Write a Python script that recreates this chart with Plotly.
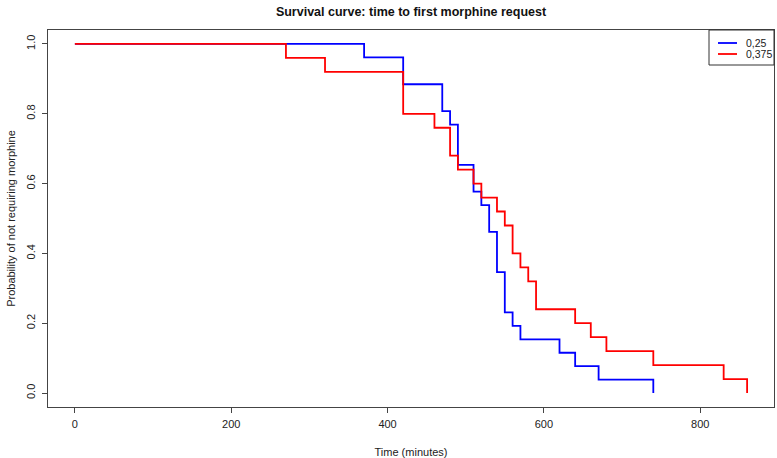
import plotly.graph_objects as go

# Kaplan-Meier step data
blue_label = "0,25"
blue_time = [0, 370, 420, 470, 480, 490, 510, 520, 530, 540, 550, 560, 570, 620, 640, 670, 740]
blue_surv = [1.0, 0.9615, 0.8846, 0.8077, 0.7692, 0.6538, 0.5769, 0.5385, 0.4615, 0.3462,
             0.2308, 0.1923, 0.1538, 0.1154, 0.0769, 0.0385, 0.0]

red_label = "0,375"
red_time = [0, 270, 320, 420, 460, 480, 490, 510, 520, 540, 550, 560, 570, 580, 590, 640,
            660, 680, 740, 830, 860]
red_surv = [1.0, 0.96, 0.92, 0.80, 0.76, 0.68, 0.64, 0.60, 0.56, 0.52, 0.48, 0.40, 0.36,
            0.32, 0.24, 0.20, 0.16, 0.12, 0.08, 0.04, 0.0]

x_ticks = [0, 200, 400, 600, 800]
y_ticks = [0.0, 0.2, 0.4, 0.6, 0.8, 1.0]
y_tick_text = ["0.0", "0.2", "0.4", "0.6", "0.8", "1.0"]

FONT = "Liberation Sans, Arial, sans-serif"
AXC = "#444444"
BLUE = "#0000FF"
RED = "#FF0000"

W, H = 777, 458
ML, MR, MT, MB = 48, 3, 30, 51
PW, PH = W - ML - MR, H - MT - MB


def px(xw):
    return (xw - ML) / PW


def py(yw):
    return 1 - (yw - MT) / PH


fig = go.Figure()
fig.add_trace(go.Scatter(x=blue_time, y=blue_surv, mode="lines", name=blue_label,
                         line=dict(color=BLUE, width=1.8, shape="hv"), showlegend=False))
fig.add_trace(go.Scatter(x=red_time, y=red_surv, mode="lines", name=red_label,
                         line=dict(color=RED, width=1.8, shape="hv"), showlegend=False))

# compact R-style legend box in the top-right corner
rows = [(blue_label, BLUE, py(43)), (red_label, RED, py(54))]
fig.add_shape(type="rect", xref="paper", yref="paper", x0=px(709), x1=1.0, y0=py(65), y1=1.0,
              line=dict(color="#333333", width=1), fillcolor="white", layer="above")
for label, color, yy in rows:
    fig.add_shape(type="line", xref="paper", yref="paper", x0=px(718), x1=px(737),
                  y0=yy, y1=yy, line=dict(color=color, width=1.8), layer="above")
    fig.add_annotation(text=label, xref="paper", yref="paper", x=px(744), y=yy,
                       xanchor="left", yanchor="middle", showarrow=False,
                       font=dict(family=FONT, size=10.5, color="#222222"))

fig.update_layout(
    width=W, height=H,
    margin=dict(l=ML, r=MR, t=MT, b=MB),
    paper_bgcolor="white", plot_bgcolor="white",
    font=dict(family=FONT, size=11, color="#222222"),
    title=dict(text="<b>Survival curve: time to first morphine request</b>",
               x=0.5, xref="paper", xanchor="center",
               y=1 - 12 / H, yref="container", yanchor="middle",
               font=dict(family=FONT, size=12.5, color="#111111")),
    showlegend=False,
)
fig.update_xaxes(
    range=[-34.4, 894.4], tickvals=x_ticks, ticks="outside", ticklen=5,
    tickcolor=AXC, showline=True, linecolor=AXC, linewidth=1.2, mirror=True,
    showgrid=False, zeroline=False, ticklabelstandoff=2, automargin=False,
    title=dict(text="Time (minutes)", standoff=19, font=dict(size=11)),
)
fig.update_yaxes(
    range=[-0.04, 1.04], tickvals=y_ticks, ticktext=y_tick_text, tickangle=-90,
    ticks="outside", ticklen=5, tickcolor=AXC, showline=True, linecolor=AXC,
    linewidth=1.2, mirror=True, showgrid=False, zeroline=False,
    ticklabelstandoff=3, automargin=False,
    title=dict(text="Probability of not requiring morphine", standoff=6, font=dict(size=11)),
)

# remove the browser's default page margin so the figure fills the window exactly
fig.write_html("out.html",
               config={"displayModeBar": False},
               post_script="document.body.style.margin='0';document.body.style.overflow='hidden';")
